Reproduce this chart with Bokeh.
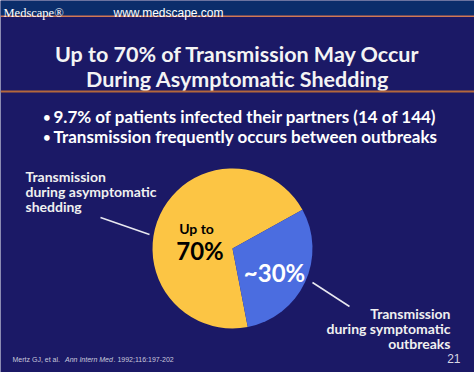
import math
from bokeh.plotting import figure
from bokeh.models import ColumnDataSource, Range1d
from bokeh.core.properties import value
from bokeh.embed import file_html
from bokeh.resources import INLINE

# ---- data ----
title_lines = ["Up to 70% of Transmission May Occur", "During Asymptomatic Shedding"]
bullets = ["9.7% of patients infected their partners (14 of 144)",
           "Transmission frequently occurs between outbreaks"]
slice_names = ["Asymptomatic shedding", "Symptomatic outbreaks"]
slice_values = [70, 30]
slice_colors = ["#fcc544", "#4b6de0"]
left_label = ["Transmission", "during asymptomatic", "shedding"]
right_label = ["Transmission", "during symptomatic", "outbreaks"]
header_brand = "Medscape\u00ae"
header_url = "www.medscape.com"
citation = ["Mertz GJ, et al. ", "Ann Intern Med", ". 1992;116:197-202"]
slide_no = "21"

# ---- layout helpers (page px -> data) ----
W, H = 474, 372
def X(px): return px
def Y(py): return H - py

NAVY = "#1b1966"
p = figure(width=W, height=H, x_range=Range1d(0, W), y_range=Range1d(0, H),
           output_backend="svg", toolbar_location=None,
           x_axis_type=None, y_axis_type=None, min_border=0)
p.background_fill_color = NAVY
p.border_fill_color = NAVY
p.outline_line_color = None
p.grid.visible = False

# header bar
p.quad(left=[0], right=[W], top=[H], bottom=[Y(15)], fill_color="#0b2d6b", line_color=None)
p.quad(left=[0], right=[W], top=[Y(15)], bottom=[Y(16.5)], fill_color="#cf7a54", line_color=None)
p.text(x=[X(3)], y=[Y(12)], text=[header_brand], text_font=value("Liberation Serif"),
       text_font_size="12.5px", text_color="white", text_baseline="alphabetic")
p.text(x=[X(113)], y=[Y(12)], text=[header_url], text_font=value("Liberation Sans"),
       text_font_size="12px", text_color="white", text_baseline="alphabetic")

# title
p.text(x=[X(237)] * 2, y=[Y(53.5), Y(78.5)], text=title_lines, text_font=value("Lato"),
       text_font_style="bold", text_font_size="21.5px", text_color="#f4f4f4",
       text_align="center", text_baseline="alphabetic")
p.quad(left=[0], right=[W], top=[Y(90)], bottom=[Y(92)], fill_color="#b5683c", line_color=None)

# bullets
by = [Y(116), Y(136)]
p.text(x=[X(42)] * 2, y=by, text=["\u2022"] * 2, text_font=value("Lato"),
       text_font_size="15px", text_color="white", text_baseline="alphabetic")
p.text(x=[X(53)] * 2, y=by, text=bullets, text_font=value("Lato"), text_font_style="bold",
       text_font_size="17px", text_color="white", text_baseline="alphabetic")

# pie
total = sum(slice_values)
offset = math.radians(29)
starts, ends = [], []
acc = 0.0
for v in slice_values:
    starts.append(offset + 2 * math.pi * acc / total)
    acc += v
    ends.append(offset + 2 * math.pi * acc / total)
src = ColumnDataSource(dict(name=slice_names, value=slice_values, start=starts, end=ends,
                            color=slice_colors))
cx, cy, r = X(232), Y(248), 80
p.wedge(x=cx, y=cy, radius=r, start_angle="start", end_angle="end", fill_color="color",
        line_color=None, source=src)

# slice texts
p.text(x=[X(196)], y=[Y(228)], text=["Up to"], text_font=value("Lato"), text_font_style="bold",
       text_font_size="14px", text_color="black", text_align="center", text_baseline="alphabetic")
p.text(x=[X(199.5)], y=[Y(250)], text=["%d%%" % slice_values[0]], text_font=value("Lato"),
       text_font_style="bold", text_font_size="24px", text_color="black", text_align="center",
       text_baseline="alphabetic")
p.text(x=[X(274)], y=[Y(272)], text=["~%d%%" % slice_values[1]], text_font=value("Lato"),
       text_font_style="bold", text_font_size="24px", text_color="white", text_align="center",
       text_baseline="alphabetic")

# callout labels
p.text(x=[X(25)] * 3, y=[Y(176), Y(191), Y(206)], text=left_label, text_font=value("Lato"),
       text_font_style="bold", text_font_size="14px", text_color="#f0f0f0",
       text_baseline="alphabetic")
p.text(x=[X(450)] * 3, y=[Y(313), Y(328), Y(343)], text=right_label, text_font=value("Lato"),
       text_font_style="bold", text_font_size="14px", text_color="#f0f0f0",
       text_align="right", text_baseline="alphabetic")
p.segment(x0=[X(100), X(312)], y0=[Y(217), Y(282)], x1=[X(149), X(349)], y1=[Y(234), Y(306)],
          line_color="#e8e8f0", line_width=1.5)

# footer
p.text(x=[X(12)], y=[Y(359)], text=[citation[0]], text_font=value("Liberation Sans"),
       text_font_size="7px", text_color="#c8c8dc", text_baseline="alphabetic")
p.text(x=[X(64.5)], y=[Y(359)], text=[citation[1]], text_font=value("Liberation Sans"),
       text_font_style="italic", text_font_size="7px", text_color="#c8c8dc",
       text_baseline="alphabetic")
p.text(x=[X(113)], y=[Y(359)], text=[citation[2]], text_font=value("Liberation Sans"),
       text_font_size="7px", text_color="#c8c8dc", text_baseline="alphabetic")
p.text(x=[X(460)], y=[Y(358)], text=[slide_no], text_font=value("Liberation Sans"),
       text_font_size="12px", text_color="#d8d8e4", text_align="right", text_baseline="alphabetic")

open("out.html", "w").write(file_html(p, INLINE))
